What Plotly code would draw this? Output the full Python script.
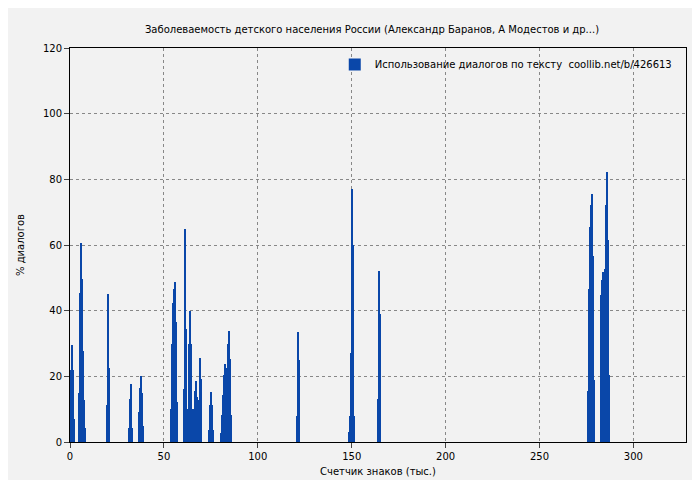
import plotly.graph_objects as go

# позиции (тыс. знаков) и % диалогов
x_vals = [0.5, 1, 1.5, 2,
          5, 5.5, 6, 6.5, 7, 7.5, 8,
          19.5, 20, 20.5, 21,
          31.5, 32, 32.5, 33,
          36.5, 37, 37.5, 38, 38.5, 39,
          54, 54.5, 55, 55.5, 56, 56.5, 57,
          60.5, 61, 61.5, 62, 62.5, 63, 63.5, 64, 64.5, 65, 65.5, 66, 66.5, 67, 67.5, 68, 68.5, 69, 69.5, 70,
          74, 74.5, 75, 75.5, 76,
          80.5, 81, 81.5, 82, 82.5, 83, 83.5, 84, 84.5, 85, 85.5,
          121, 121.5, 122,
          148.5, 149, 149.5, 150, 150.5, 151,
          164, 164.5, 165,
          276, 276.5, 277, 277.5, 278, 278.5, 279,
          282.5, 283, 283.5, 284, 284.5, 285, 285.5, 286, 286.5, 287]
y_vals = [22, 29.5, 22, 7,
          15, 45.3, 60.6, 49.6, 27.7, 12.8, 4.3,
          11.3, 33.8, 45, 22.5,
          4.3, 13, 17.7, 4.3,
          2.7, 9, 16.4, 20, 15, 5,
          10, 30, 42.3, 46.6, 48.7, 36.5, 12.2,
          16, 48.7, 65, 34.4, 2.7, 10, 30, 40, 30, 10, 5.2, 10, 15.5, 18.6, 13.7, 5, 12.8, 25.6, 19.2, 6.4,
          3.7, 11.3, 15.2, 11.3, 3.7,
          2.7, 8.2, 14.3, 20.4, 23.8, 22.5, 22.5, 29.9, 33.8, 25.3, 8.2,
          8, 33.5, 25,
          3, 8, 27, 77, 60, 8,
          13, 52, 39,
          15.6, 46.6, 65.5, 72.2, 75.5, 56.7, 18.9,
          21.3, 44.9, 49.3, 51.8, 49.3, 52.7, 72.2, 82.2, 61.5, 20.4]

fig = go.Figure(go.Bar(x=x_vals, y=y_vals, width=0.55, marker=dict(color='#0a47a9', line_width=0),
                       name='Использование диалогов по тексту  coollib.net/b/426613'))

fig.update_layout(
    width=700, height=480,
    paper_bgcolor='#f2f2f2', plot_bgcolor='#f2f2f2',
    margin=dict(l=62, r=22, t=40, b=46, autoexpand=False),
    font=dict(family='DejaVu Sans', size=10, color='#000'),
    title=dict(text='Заболеваемость детского населения России (Александр Баранов, А Модестов и др...)',
               x=0.52, xanchor='center', y=0.962, font=dict(size=10)),
    showlegend=True,
    legend=dict(x=0.985, y=0.995, xanchor='right', yanchor='top', bgcolor='rgba(0,0,0,0)', font=dict(size=10)),
    bargap=0,
)
fig.update_xaxes(range=[0, 328], dtick=50, showline=True, linecolor='#000', mirror=True, automargin=False,
                 ticks='outside', ticklen=5, showgrid=True, gridcolor='#888', griddash='dot',
                 zeroline=False, title=dict(text='Счетчик знаков (тыс.)', standoff=6, font=dict(size=10)))
fig.update_yaxes(range=[0, 120], dtick=20, showline=True, linecolor='#000', mirror=True, automargin=False,
                 ticks='outside', ticklen=5, showgrid=True, gridcolor='#888', griddash='dot',
                 zeroline=False, title=dict(text='% диалогов', standoff=16, font=dict(size=10)))

fig.write_html("out.html")
